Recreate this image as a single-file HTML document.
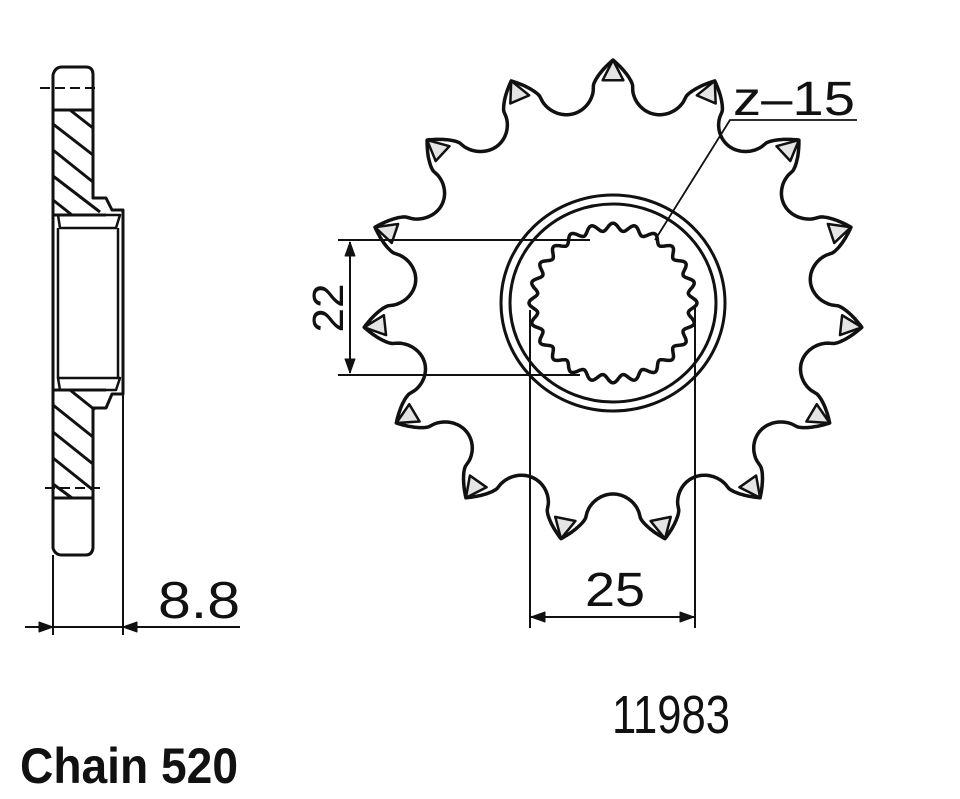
<!DOCTYPE html>
<html><head><meta charset="utf-8"><style>
html,body{margin:0;padding:0;background:#fff;width:960px;height:799px;overflow:hidden}
svg{display:block}
text{font-family:"Liberation Sans",sans-serif;fill:#111}
</style></head><body>
<svg id="s" width="960" height="799" viewBox="0 0 960 799" xmlns="http://www.w3.org/2000/svg">
<g fill="none" stroke="#111" stroke-width="3" stroke-linejoin="round">
<path id="gear" stroke-width="3.5"/>
<g id="tips" stroke-width="2.5"></g>
<ellipse cx="613" cy="303" rx="112" ry="108"/>
<ellipse cx="613" cy="303" rx="103" ry="99"/>
<path id="spl" stroke-width="3.5"/>
<line x1="338" y1="240" x2="590" y2="240" stroke-width="2"/>
<line x1="338" y1="375" x2="580" y2="375" stroke-width="2"/>
<line x1="350" y1="242" x2="350" y2="373" stroke-width="2"/>
<path d="M350 242 L345 256 L355 256Z M350 373 L345 359 L355 359Z" fill="#111" stroke-width="1"/>
<line x1="530" y1="310" x2="530" y2="628" stroke-width="2"/>
<line x1="695" y1="305" x2="695" y2="628" stroke-width="2"/>
<line x1="530" y1="617" x2="695" y2="617" stroke-width="2"/>
<path d="M531 617 L545 612 L545 622Z M694 617 L680 612 L680 622Z" fill="#111" stroke-width="1"/>
<polyline points="655,240 730,120 857,120" stroke-width="1.8"/>
<path d="M53 75 Q55 67 62 67 L86 67 Q93 67 93 75 L93 198 L106 198 L112 210 L123 210 L123 394 L112 394 L106 408 L93 408 L93 548 Q92 555 86 555 L62 555 Q55 555 53 548 Z"/>
<line x1="53" y1="555" x2="53" y2="635" stroke-width="2"/>
<line x1="123" y1="394" x2="123" y2="635" stroke-width="2"/>
<line x1="53" y1="110" x2="93" y2="110"/>
<line x1="53" y1="498" x2="93" y2="498"/>
<path d="M58 215 L120 215 L116 228 L60 228 Z M58 378 L120 378 L116 390 L60 390 Z" stroke-width="2.5"/>
<line x1="58" y1="228" x2="58" y2="378" stroke-width="2.5"/>
<line x1="118" y1="228" x2="118" y2="378" stroke-width="2.5"/>
<line x1="53" y1="215" x2="106" y2="215"/>
<line x1="53" y1="390" x2="106" y2="390"/>
<g stroke-width="3">
<line x1="70" y1="110" x2="93" y2="128"/>
<line x1="53" y1="124" x2="93" y2="155"/>
<line x1="53" y1="150" x2="93" y2="182"/>
<line x1="53" y1="176" x2="100" y2="212"/>
<line x1="53" y1="200" x2="72" y2="215"/>
<line x1="70" y1="390" x2="95" y2="410"/>
<line x1="53" y1="405" x2="93" y2="437"/>
<line x1="53" y1="432" x2="93" y2="464"/>
<line x1="53" y1="458" x2="93" y2="490"/>
<line x1="53" y1="484" x2="72" y2="498"/>
</g>
<g stroke-width="2" stroke-dasharray="10,5">
<line x1="40" y1="88" x2="100" y2="88"/>
<line x1="45" y1="488" x2="100" y2="488"/>
</g>
<line x1="25" y1="627" x2="240" y2="627" stroke-width="2"/>
<path d="M53 627 L39 622 L39 632Z M123 627 L137 622 L137 632Z" fill="#111" stroke-width="1"/>
</g>
<text x="158" y="618" font-size="52" textLength="82" lengthAdjust="spacingAndGlyphs">8.8</text>
<text x="585" y="606" font-size="48" textLength="60" lengthAdjust="spacingAndGlyphs">25</text>
<text x="733" y="115" font-size="48" textLength="122" lengthAdjust="spacingAndGlyphs">z–15</text>
<text transform="translate(343,308) rotate(-90)" font-size="44" text-anchor="middle">22</text>
<text x="612" y="733" font-size="54" textLength="118" lengthAdjust="spacingAndGlyphs">11983</text>
<text x="20" y="783" font-size="50" font-weight="bold" textLength="218" lengthAdjust="spacingAndGlyphs">Chain 520</text>
</svg>
<script>
(function(){
var cx=613,cy=302,Rt=242,Rr=192,sx=244/236,N=15;
var pts=[],M=1800,c=0.5,b=0.42;
for(var k=0;k<=M;k++){
 var th=-Math.PI/2+2*Math.PI*k/M;
 var per=2*Math.PI/N;
 var rel=((th+Math.PI/2)%per+per)%per; if(rel>per/2) rel=per-rel;
 var d=rel/(per/2),f;
 if(d>=b){var u=(1-d)/(1-b); f=c*(1-Math.sqrt(Math.max(0,1-u*u)));}
 else {var v=d/b; f=c+(1-c)*Math.pow(1-v,0.75);}
 var r=Rr+(Rt-Rr)*f;
 pts.push((cx+r*Math.cos(th)*sx).toFixed(1)+','+(cy+r*Math.sin(th)).toFixed(1));
}
document.getElementById('gear').setAttribute('d','M'+pts.join(' L')+'Z');
var g=document.getElementById('tips'),h='';
for(var i=0;i<N;i++){
 var a=-Math.PI/2+2*Math.PI*i/N,r2=Rt-20,da=0.045;
 var x1=cx+r2*Math.cos(a-da)*sx,y1=cy+r2*Math.sin(a-da),x2=cx+r2*Math.cos(a+da)*sx,y2=cy+r2*Math.sin(a+da);
 var xt=cx+Rt*Math.cos(a)*sx,yt=cy+Rt*Math.sin(a);
 h+='<path d="M'+x1+' '+y1+' L'+xt+' '+yt+' L'+x2+' '+y2+'Z" fill="#e4e4e4"/>';
}
g.innerHTML=h;
var sp=[],S=24;
for(var k=0;k<=960;k++){
 var th=2*Math.PI*k/960;
 var r=80+4*Math.cos(th*S);
 sp.push((cx+r*Math.cos(th)).toFixed(1)+','+(303+r*0.95*Math.sin(th)).toFixed(1));
}
document.getElementById('spl').setAttribute('d','M'+sp.join(' L')+'Z');
})();
</script>
</body></html>
